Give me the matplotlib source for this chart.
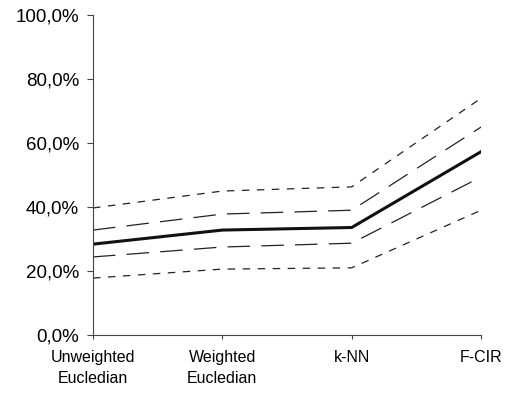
import matplotlib.pyplot as plt
from matplotlib.ticker import FuncFormatter

plt.rcParams['font.family'] = ['Liberation Sans', 'DejaVu Sans']

categories = ['Unweighted\nEucledian', 'Weighted\nEucledian', 'k-NN', 'F-CIR']
mean = [28.4, 32.8, 33.6, 57.3]
upper_inner = [32.8, 37.8, 39.0, 65.0]
lower_inner = [24.4, 27.5, 28.7, 49.4]
upper_outer = [39.7, 45.0, 46.3, 74.0]
lower_outer = [17.8, 20.6, 21.0, 39.0]

fig = plt.figure(figsize=(5.08, 3.96), dpi=100)
ax = fig.add_axes([0.183, 0.154, 0.764, 0.808])

x = range(len(categories))
ax.plot(x, upper_outer, color='#222222', lw=0.9, dashes=(6, 6))
ax.plot(x, lower_outer, color='#222222', lw=0.9, dashes=(6, 6))
ax.plot(x, upper_inner, color='#222222', lw=0.9, dashes=(18, 9))
ax.plot(x, lower_inner, color='#222222', lw=0.9, dashes=(18, 9))
ax.plot(x, mean, color='#111111', lw=2.2)

ax.set_xlim(0, 3)
ax.set_ylim(0, 100)
ax.set_yticks([0, 20, 40, 60, 80, 100])
ax.yaxis.set_major_formatter(FuncFormatter(lambda v, p: f"{v:.1f}%".replace('.', ',')))
ax.set_xticks(list(x))
ax.set_xticklabels(categories, linespacing=1.45)

for s in ['top', 'right']:
  ax.spines[s].set_visible(False)
for s in ['left', 'bottom']:
  ax.spines[s].set_color('#444444')
  ax.spines[s].set_linewidth(0.8)

ax.tick_params(axis='y', length=4, width=0.8, color='#444444', labelsize=13.5, pad=6)
ax.tick_params(axis='x', length=3, width=0.8, color='#444444', labelsize=11.5, pad=8)

fig.savefig('out.png', dpi=100)
